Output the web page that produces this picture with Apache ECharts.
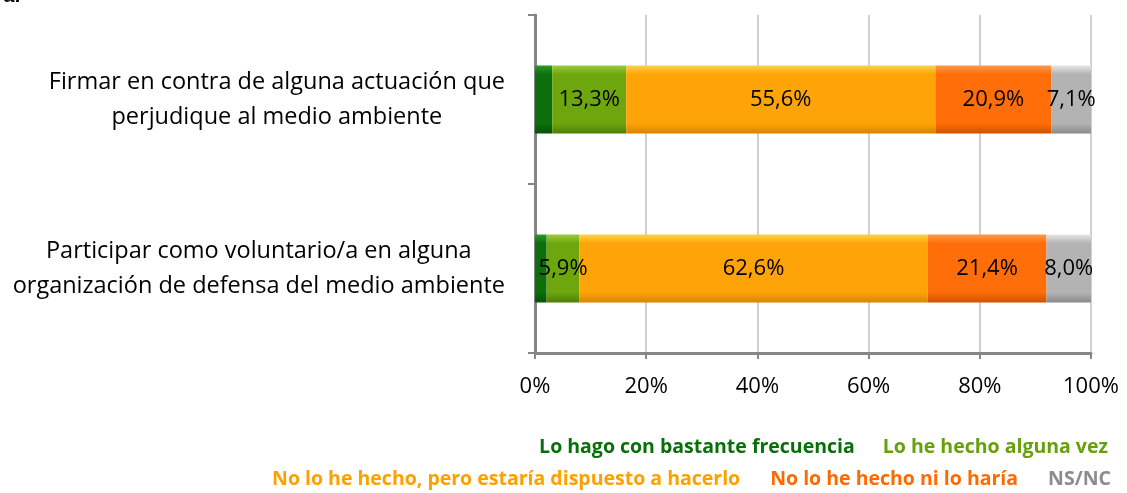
<!DOCTYPE html>
<html>
<head>
<meta charset="utf-8">
<script src="https://cdn.jsdelivr.net/npm/echarts@6/dist/echarts.min.js"></script>
<style>
html,body{margin:0;padding:0;background:#fff;}
#c{width:1127px;height:493px;}
</style>
</head>
<body>
<div id="c"></div>
<script>
// ---- data ----
const categories = [
  'Firmar en contra de alguna actuación que\nperjudique al medio ambiente',
  'Participar como voluntario/a en alguna\norganización de defensa del medio ambiente'
];
const seriesNames = [
  'Lo hago con bastante frecuencia',
  'Lo he hecho alguna vez',
  'No lo he hecho, pero estaría dispuesto a hacerlo',
  'No lo he hecho ni lo haría',
  'NS/NC'
];
const frecuencia = [3.1, 2.1];
const algunaVez = [13.3, 5.9];
const dispuesto = [55.6, 62.6];
const noHaria = [20.9, 21.4];
const nsnc = [7.1, 8.0];
const xTicks = [0, 20, 40, 60, 80, 100];

const values = [frecuencia, algunaVez, dispuesto, noHaria, nsnc];
const fills = [
  ['#2a9a2a', '#0c6f0c', '#055205'],
  ['#9ccc3a', '#6ea60e', '#4f7e08'],
  ['#ffd24a', '#ffa408', '#d98400'],
  ['#ff9a4a', '#ff6e08', '#cc5200'],
  ['#e6e6e6', '#b3b3b3', '#8a8a8a']
];
const legendColors = ['#0a6e0a', '#66a00a', '#ffa000', '#ff6a00', '#8c8c8c'];
const FONT = 'Open Sans';

function grad(c) {
  return {
    type: 'linear', x: 0, y: 0, x2: 0, y2: 1,
    colorStops: [
      {offset: 0, color: c[0]}, {offset: 0.13, color: c[1]},
      {offset: 0.85, color: c[1]}, {offset: 1, color: c[2]}
    ]
  };
}

const series = values.map((arr, i) => ({
  name: seriesNames[i],
  type: 'bar',
  stack: 'total',
  barWidth: 68,
  data: arr,
  itemStyle: {color: grad(fills[i])},
  label: {
    show: i > 0,
    position: 'inside',
    color: '#000',
    fontFamily: FONT,
    fontSize: 22,
    formatter: p => p.value.toFixed(1).replace('.', ',') + '%'
  }
}));

const chart = echarts.init(document.getElementById('c'));
chart.setOption({
  animation: false,
  backgroundColor: '#fff',
  graphic: [{
    type: 'text', left: 4, top: -14,
    style: {text: 'a:', font: 'italic bold 20px "Liberation Sans"', fill: '#000'}
  }],
  grid: {left: 535, right: 36, top: 15, bottom: 140},
  xAxis: {
    type: 'value', min: 0, max: 100, interval: 20,
    axisLine: {show: true, lineStyle: {color: '#868686', width: 3}},
    axisTick: {show: true, length: 6, lineStyle: {color: '#868686', width: 2}},
    splitLine: {show: true, lineStyle: {color: '#d0d0d0', width: 2}},
    axisLabel: {
      margin: 23, color: '#000', fontFamily: FONT, fontSize: 22,
      formatter: v => (xTicks.indexOf(v) >= 0 ? v + '%' : '')
    }
  },
  yAxis: {
    type: 'category', inverse: true, data: categories,
    axisLine: {show: true, lineStyle: {color: '#868686', width: 3}},
    axisTick: {show: true, length: 7, lineStyle: {color: '#868686', width: 2}},
    axisLabel: {
      margin: 30, color: '#000', fontFamily: FONT, fontSize: 23.5, lineHeight: 35,
      formatter: v => v.split('\n').map(l => '{c|' + l + '}').join('\n'),
      rich: {c: {align: 'center', fontFamily: FONT, fontSize: 23.5, lineHeight: 35, color: '#000'}}
    }
  },
  legend: [
    {
      data: seriesNames.slice(0, 2).map((n, i) => ({name: n, textStyle: {color: legendColors[i]}})),
      right: 14, top: 432, icon: 'rect', itemWidth: 0, itemHeight: 0, itemGap: 23,
      textStyle: {fontFamily: FONT, fontSize: 19.5, fontWeight: 'bold'}
    },
    {
      data: seriesNames.slice(2).map((n, i) => ({name: n, textStyle: {color: legendColors[i + 2]}})),
      right: 11, top: 464, icon: 'rect', itemWidth: 0, itemHeight: 0, itemGap: 25,
      textStyle: {fontFamily: FONT, fontSize: 19.5, fontWeight: 'bold'}
    }
  ],
  series: series
});
</script>
</body>
</html>
